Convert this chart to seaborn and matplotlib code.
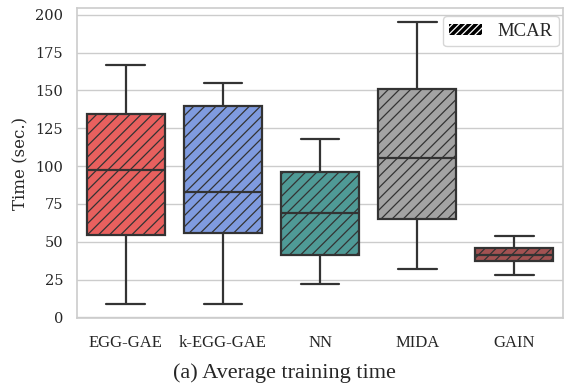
import numpy as np
import pandas as pd
import matplotlib
matplotlib.use("Agg")
import matplotlib.pyplot as plt
import matplotlib.patches as mpatches
import seaborn as sns

# five-number summaries: min, Q1, median, Q3, max
methods = ["EGG-GAE", "k-EGG-GAE", "NN", "MIDA", "GAIN"]
egg_gae = [9, 54.5, 97.5, 134.5, 166.5]
k_egg_gae = [9, 56, 83, 140, 155]
nn = [22, 41.5, 69, 96, 118]
mida = [32, 65, 105.5, 151, 195]
gain = [28, 37.5, 41.5, 46, 53.5]
colors = ["#e8605e", "#7f9be0", "#4f9a96", "#a3a3a3", "#a25252"]

df = pd.DataFrame({
    "method": np.repeat(methods, 5),
    "time": egg_gae + k_egg_gae + nn + mida + gain,
})

sns.set_theme(style="whitegrid")
plt.rcParams["font.family"] = ["Liberation Serif", "DejaVu Serif"]
plt.rcParams["hatch.color"] = "#222222"
plt.rcParams["hatch.linewidth"] = 0.9

fig = plt.figure(figsize=(5.68, 3.9), dpi=100)
ax = fig.add_axes([0.136, 0.185, 0.855, 0.794])

sns.boxplot(data=df, x="method", y="time", hue="method", palette=colors,
            order=methods, whis=(0, 100), saturation=1, width=0.8,
            linewidth=1.6, linecolor="#333333", legend=False, ax=ax)

for patch in ax.patches:
    patch.set_hatch("///")

for sp in ax.spines.values():
    sp.set_color("#cccccc")
    sp.set_linewidth(1.2)

ax.set_yticks(np.arange(0, 201, 25))
ax.set_xlabel("")
ax.set_ylabel("Time (sec.)", fontsize=12, family="DejaVu Serif")
ax.tick_params(axis="x", labelsize=12, pad=6)
ax.tick_params(axis="y", labelsize=10.5, pad=4)
for lab in ax.get_yticklabels():
    lab.set_family("DejaVu Serif")

handle = mpatches.Patch(facecolor="white", edgecolor="black", linewidth=0,
                        hatch="/////", label="MCAR")
leg = ax.legend(handles=[handle], loc="upper right", bbox_to_anchor=(0.992, 0.974),
                borderaxespad=0, fontsize=13.5, frameon=True,
                handlelength=1.76, handleheight=0.55, borderpad=0.35, handletextpad=0.8)
for p in leg.get_patches():
    if hasattr(p, "set_hatch_linewidth"):
        p.set_hatch_linewidth(2.5)

fig.text(0.5, 0.03, "(a) Average training time", ha="center", fontsize=16)

fig.savefig("out.png", dpi=100)
